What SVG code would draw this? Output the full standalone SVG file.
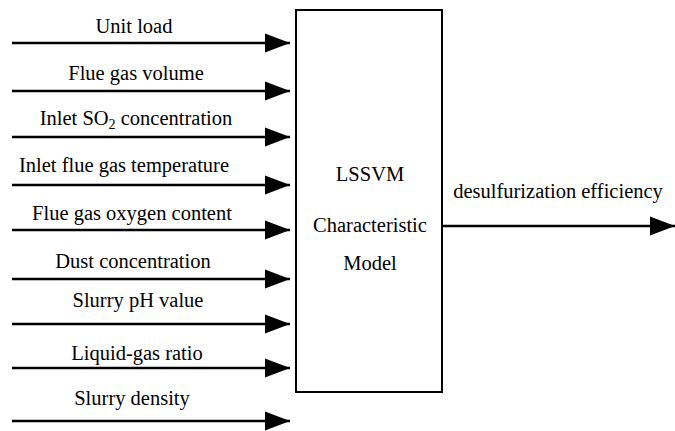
<svg xmlns="http://www.w3.org/2000/svg" width="675" height="431" viewBox="0 0 675 431">
<style>
.t{font-size:20.5px;fill:#000;text-anchor:middle}
.ln{stroke:#000;stroke-width:2.5;fill:none}
.ah{fill:#000}
</style>
<defs>
<marker id="arr" markerUnits="userSpaceOnUse" markerWidth="26" markerHeight="20" refX="25" refY="10" orient="auto">
<path d="M0,0.5 L25,10 L0,19.5 Z" class="ah"/>
</marker>
</defs>
<rect width="675" height="431" fill="#fff"/>
<g id="model">
<rect x="296" y="10" width="146" height="382" fill="#fff" stroke="#000" stroke-width="2"/>
<text class="t" font-family="Liberation Serif" x="370" y="181">LSSVM</text>
<text class="t" font-family="Liberation Serif" x="370" y="232">Characteristic</text>
<text class="t" font-family="Liberation Serif" x="370" y="270">Model</text>
</g>
<g id="connectors">
<line class="ln" x1="12" y1="43" x2="290" y2="43" marker-end="url(#arr)"/>
<line class="ln" x1="12" y1="91" x2="290" y2="91" marker-end="url(#arr)"/>
<line class="ln" x1="12" y1="137" x2="290" y2="137" marker-end="url(#arr)"/>
<line class="ln" x1="12" y1="185" x2="290" y2="185" marker-end="url(#arr)"/>
<line class="ln" x1="12" y1="230" x2="290" y2="230" marker-end="url(#arr)"/>
<line class="ln" x1="12" y1="279" x2="290" y2="279" marker-end="url(#arr)"/>
<line class="ln" x1="12" y1="324" x2="290" y2="324" marker-end="url(#arr)"/>
<line class="ln" x1="12" y1="368" x2="290" y2="368" marker-end="url(#arr)"/>
<line class="ln" x1="12" y1="421" x2="290" y2="421" marker-end="url(#arr)"/>
<line class="ln" x1="442" y1="226" x2="675" y2="226" marker-end="url(#arr)"/>
</g>
<g id="labels">
<text class="t" font-family="Liberation Serif" x="134" y="33">Unit load</text>
<text class="t" font-family="Liberation Serif" x="136" y="80">Flue gas volume</text>
<text class="t" font-family="Liberation Serif" x="136" y="125">Inlet SO<tspan font-size="14" dy="4">2</tspan><tspan dy="-4"> concentration</tspan></text>
<text class="t" font-family="Liberation Serif" x="124" y="172">Inlet flue gas temperature</text>
<text class="t" font-family="Liberation Serif" x="132" y="220">Flue gas oxygen content</text>
<text class="t" font-family="Liberation Serif" x="133" y="268">Dust concentration</text>
<text class="t" font-family="Liberation Serif" x="138" y="307">Slurry pH value</text>
<text class="t" font-family="Liberation Serif" x="137" y="360">Liquid-gas ratio</text>
<text class="t" font-family="Liberation Serif" x="132" y="405">Slurry density</text>
<text class="t" font-family="Liberation Serif" x="558" y="198">desulfurization efficiency</text>
</g>
</svg>
